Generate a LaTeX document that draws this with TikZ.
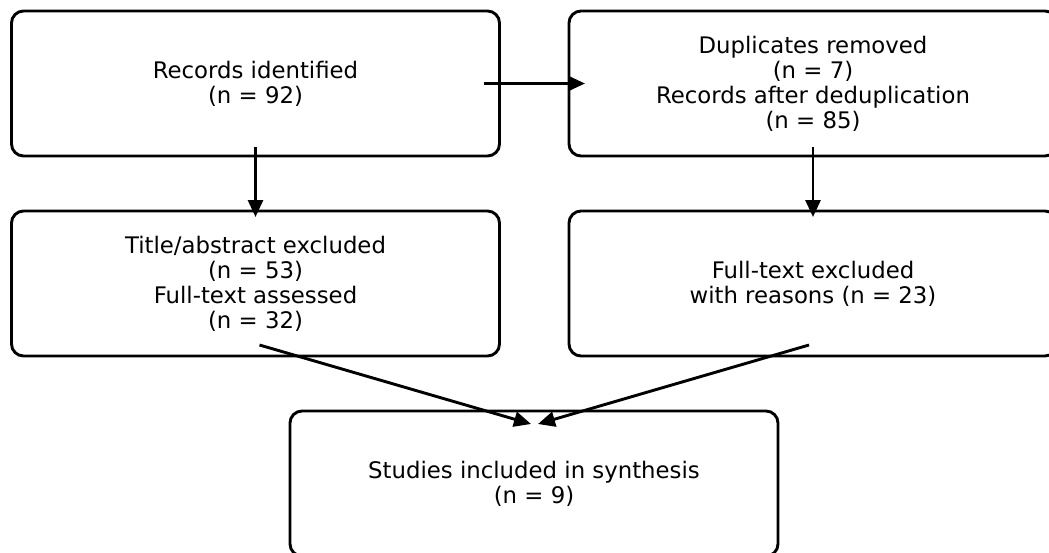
\documentclass[tikz,border=0pt]{standalone}
\usepackage{fontspec}
\setmainfont{DejaVu Sans}
\usetikzlibrary{arrows.meta}
\begin{document}
\begin{tikzpicture}[x=1pt,y=-1pt,
  box/.style={draw=black, line width=2.9pt, rounded corners=12pt, minimum width=488pt, minimum height=145pt, inner sep=0pt, outer sep=0pt, align=center, font=\fontsize{22.8}{25}\selectfont},
  arr/.style={line width=2.9pt, -{Triangle[length=17pt,width=15pt]}}]
\useasboundingbox (0,0) rectangle (1049,552);
\node[box] (A) at (255.5,83.5) {Records identified\\(n = 92)};
\node[box] (B) at (813,83.5) {Duplicates removed\\(n = 7)\\Records after deduplication\\(n = 85)};
\node[box] (C) at (255.5,283.5) {Title/abstract excluded\\(n = 53)\\Full-text assessed\\(n = 32)};
\node[box] (D) at (813,283.5) {Full-text excluded\\with reasons (n = 23)};
\node[box] (E) at (534,483.5) {Studies included in synthesis\\(n = 9)};
\draw[arr] ([xshift=-16pt]A.east) -- ([xshift=16pt]B.west);
\draw[arr] ([yshift=9pt]A.south) -- ([yshift=-6pt]C.north);
\draw[arr] ([yshift=9pt]B.south) -- ([yshift=-6pt]D.north);
\draw[arr] ([xshift=4pt,yshift=11pt]C.south) -- ([xshift=-3pt,yshift=-13pt]E.north);
\draw[arr] ([xshift=-4pt,yshift=11pt]D.south) -- ([xshift=4pt,yshift=-13pt]E.north);
\end{tikzpicture}
\end{document}
